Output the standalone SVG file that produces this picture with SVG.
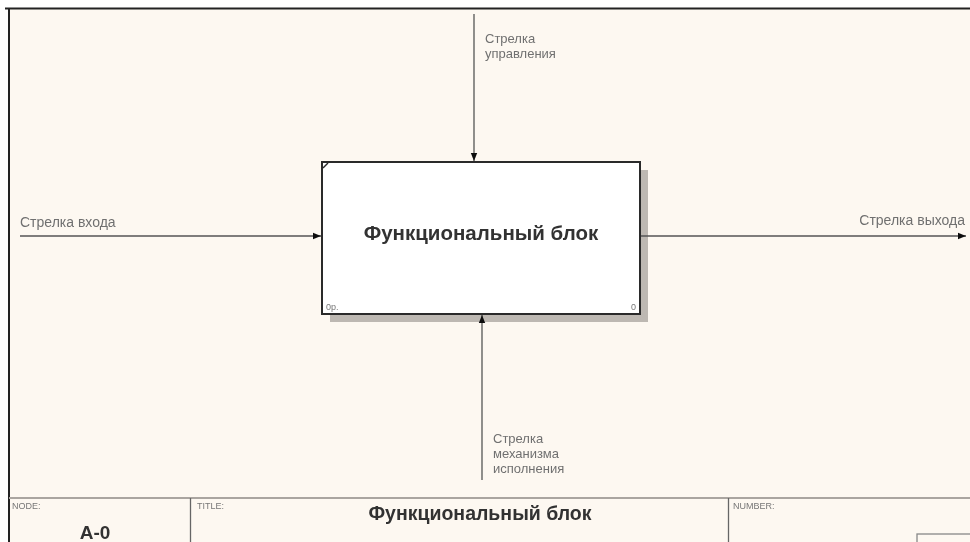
<svg xmlns="http://www.w3.org/2000/svg" width="970" height="542" viewBox="0 0 970 542">
  <defs>
    <marker id="arrow" viewBox="0 0 10 10" refX="10" refY="5" markerWidth="8" markerHeight="8" markerUnits="userSpaceOnUse" orient="auto">
      <path d="M0,1 L10,5 L0,9 Z" fill="#111"/>
    </marker>
    <filter id="soft" x="-5%" y="-5%" width="110%" height="110%">
      <feGaussianBlur stdDeviation="0.6"/>
    </filter>
  </defs>
  <style>
    .lbl { font-family: "Liberation Sans", Arial, sans-serif; font-size: 14px; fill: #707070; }
    .lbl2 { font-family: "Liberation Sans", Arial, sans-serif; font-size: 13px; fill: #707070; }
    .small { font-family: "Liberation Sans", Arial, sans-serif; font-size: 9px; fill: #777; }
    .big { font-family: "Liberation Sans", Arial, sans-serif; font-weight: bold; fill: #333; }
    .conn { stroke: #555; stroke-width: 1.3; fill: none; }
    .frame { stroke: #aaa5a0; stroke-width: 2; fill: none; }
  </style>

  <!-- page background -->
  <rect x="0" y="0" width="970" height="542" fill="#ffffff"/>
  <rect x="9" y="8" width="961" height="534" fill="#fdf8f1"/>
  <line x1="5" y1="8.5" x2="970" y2="8.5" stroke="#222" stroke-width="2"/>
  <line x1="9" y1="8" x2="9" y2="542" stroke="#222" stroke-width="2"/>

  <g filter="url(#soft)">
    <!-- function block -->
    <g id="block">
      <rect x="330" y="170" width="318" height="152" fill="#bdb8b2"/>
      <rect x="322" y="162" width="318" height="152" fill="#ffffff" stroke="#2a2a2a" stroke-width="2"/>
      <line x1="323" y1="168" x2="328" y2="163" stroke="#2a2a2a" stroke-width="1.5"/>
      <text class="big" x="481" y="240" font-size="20.5" text-anchor="middle">Функциональный блок</text>
      <text class="small" x="326" y="310">0р.</text>
      <text class="small" x="636" y="310" text-anchor="end">0</text>
    </g>

    <!-- connectors -->
    <g id="connectors">
      <line class="conn" x1="474" y1="14" x2="474" y2="161" marker-end="url(#arrow)"/>
      <line class="conn" x1="20" y1="236" x2="321" y2="236" marker-end="url(#arrow)"/>
      <line class="conn" x1="641" y1="236" x2="966" y2="236" marker-end="url(#arrow)"/>
      <line class="conn" x1="482" y1="480" x2="482" y2="315" marker-end="url(#arrow)"/>
    </g>

    <g id="label-control">
      <text class="lbl2" x="485" y="43">Стрелка</text>
      <text class="lbl2" x="485" y="58">управления</text>
    </g>
    <g id="label-input">
      <text class="lbl" x="20" y="227">Стрелка входа</text>
    </g>
    <g id="label-output">
      <text class="lbl" x="965" y="225" text-anchor="end">Стрелка выхода</text>
    </g>
    <g id="label-mechanism">
      <text class="lbl2" x="493" y="443">Стрелка</text>
      <text class="lbl2" x="493" y="458">механизма</text>
      <text class="lbl2" x="493" y="473">исполнения</text>
    </g>

    <!-- title frame -->
    <g id="title-frame">
      <line class="frame" x1="9" y1="498" x2="970" y2="498"/>
      <line x1="190.5" y1="498" x2="190.5" y2="542" stroke="#666" stroke-width="1.3"/>
      <line x1="728.5" y1="498" x2="728.5" y2="542" stroke="#666" stroke-width="1.3"/>
      <rect x="917" y="534" width="60" height="20" fill="none" stroke="#888" stroke-width="1.3"/>
      <text class="small" x="12" y="509">NODE:</text>
      <text class="small" x="197" y="509">TITLE:</text>
      <text class="small" x="733" y="509">NUMBER:</text>
      <text class="big" x="95" y="539" font-size="19" text-anchor="middle">A-0</text>
      <text class="big" x="480" y="520" font-size="19.5" text-anchor="middle">Функциональный блок</text>
    </g>
  </g>
</svg>
